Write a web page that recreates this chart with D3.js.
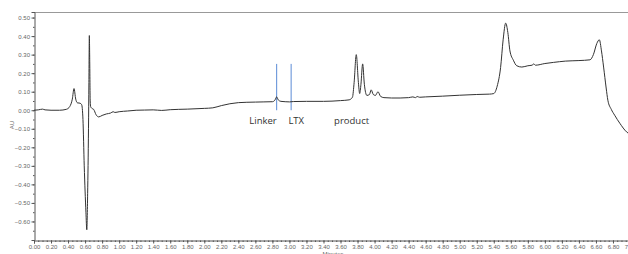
<!DOCTYPE html>
<html>
<head>
<meta charset="utf-8">
<script src="https://cdn.jsdelivr.net/npm/d3@7"></script>
<style>
  body { margin: 0; background: #fff; }
  svg { display: block; }
</style>
</head>
<body>
<svg id="chart" width="628" height="254"></svg>
<script>
// retention time (min) and absorbance (AU)
var times = [0.00, 0.05, 0.10, 0.13, 0.20, 0.30, 0.38, 0.42, 0.45, 0.47, 0.49, 0.51, 0.54, 0.56,
  0.575, 0.59, 0.61, 0.62, 0.63, 0.64, 0.645, 0.65, 0.655, 0.66, 0.665, 0.68, 0.70, 0.73, 0.76,
  0.80, 0.85, 0.90, 0.93, 0.95, 1.00, 1.10, 1.20, 1.30, 1.40, 1.50, 1.60, 1.80, 2.00, 2.10, 2.20,
  2.30, 2.40, 2.50, 2.60, 2.70, 2.80, 2.83, 2.85, 2.87, 2.90, 2.95, 3.00, 3.05, 3.20, 3.40, 3.60,
  3.70, 3.74, 3.76, 3.785, 3.81, 3.825, 3.84, 3.86, 3.88, 3.91, 3.94, 3.96, 3.985, 4.01, 4.04,
  4.07, 4.11, 4.20, 4.30, 4.40, 4.45, 4.48, 4.50, 4.53, 4.60, 4.80, 5.00, 5.20, 5.35, 5.40, 5.44,
  5.48, 5.51, 5.54, 5.565, 5.59, 5.63, 5.67, 5.73, 5.80, 5.85, 5.87, 5.89, 6.00, 6.10, 6.24, 6.40,
  6.53, 6.57, 6.61, 6.64, 6.665, 6.69, 6.72, 6.74, 6.78, 6.82, 6.88, 6.96, 7.00];
var absorbance = [0.000, 0.002, 0.006, 0.002, 0.000, 0.000, 0.005, 0.020, 0.060, 0.117, 0.060, 0.040, 0.038, 0.030,
  -0.050, -0.300, -0.550, -0.645, -0.450, -0.100, 0.150, 0.403, 0.250, 0.050, 0.020, 0.010, 0.005, -0.025, -0.036,
  -0.028, -0.020, -0.015, -0.008, -0.012, -0.008, -0.004, 0.000, 0.001, 0.002, -0.001, 0.003, 0.006, 0.010, 0.013, 0.025,
  0.035, 0.041, 0.043, 0.044, 0.045, 0.046, 0.055, 0.072, 0.055, 0.048, 0.046, 0.045, 0.047, 0.048, 0.048, 0.052,
  0.056, 0.070, 0.150, 0.300, 0.150, 0.090, 0.140, 0.250, 0.140, 0.080, 0.085, 0.110, 0.085, 0.080, 0.100,
  0.075, 0.068, 0.066, 0.066, 0.068, 0.072, 0.068, 0.074, 0.070, 0.072, 0.076, 0.081, 0.085, 0.087, 0.090, 0.130,
  0.230, 0.380, 0.470, 0.420, 0.320, 0.270, 0.240, 0.233, 0.240, 0.243, 0.250, 0.243, 0.252, 0.258, 0.265, 0.268,
  0.272, 0.300, 0.360, 0.380, 0.320, 0.233, 0.120, 0.054, 0.005, -0.027, -0.070, -0.117, -0.130];

// marker lines and annotations
var markerTimes = [2.85, 3.02];
var markerTop = 0.25, markerBottom = 0.00;
var notes = [
  {text: "Linker", t: 2.69, v: -0.074},
  {text: "LTX", t: 3.08, v: -0.074},
  {text: "product", t: 3.73, v: -0.074}
];

var xTicks = d3.range(0, 7.001, 0.2);
var yTicks = d3.range(-0.6, 0.501, 0.1);

var svg = d3.select("#chart");
var x = d3.scaleLinear().domain([0, 7]).range([34, 630]);
var y = d3.scaleLinear().domain([-0.70, 0.53]).range([240, 12]);

var axisColor = "#555", labelColor = "#666";

/* frame top line */
svg.append("line")
  .attr("x1", 34).attr("x2", 628)
  .attr("y1", 12.5).attr("y2", 12.5)
  .attr("stroke", "#999").attr("stroke-width", 1);

/* X axis */
svg.append("g")
  .attr("transform", "translate(0,240.5)")
  .call(d3.axisBottom(x).tickValues(xTicks).tickFormat(d3.format(".2f")).tickSize(3).tickPadding(1.5));
svg.append("g")
  .attr("transform", "translate(0,240.5)")
  .call(d3.axisBottom(x).tickValues(d3.range(0, 7.001, 0.05)).tickFormat("").tickSize(1.5))
  .call((g) => g.select(".domain").remove());

/* Y axis */
svg.append("g")
  .attr("transform", "translate(34.5,0)")
  .call(d3.axisLeft(y).tickValues(yTicks).tickFormat(d3.format(".2f")).tickSize(3).tickPadding(1.5));
svg.append("g")
  .attr("transform", "translate(34.5,0)")
  .call(d3.axisLeft(y).tickValues(d3.range(-0.7, 0.53, 0.05)).tickFormat("").tickSize(1.5))
  .call((g) => g.select(".domain").remove());

svg.selectAll(".domain").attr("stroke", axisColor);
svg.selectAll(".tick line").attr("stroke", axisColor);
svg.selectAll(".tick text")
  .attr("fill", labelColor)
  .style("font-family", "Liberation Sans, Arial, sans-serif")
  .style("font-size", "6px");

/* axis titles */
svg.append("text")
  .attr("transform", "translate(14,125) rotate(-90)")
  .attr("text-anchor", "middle")
  .attr("fill", labelColor)
  .style("font-family", "Liberation Sans, Arial, sans-serif")
  .style("font-size", "6px")
  .text("AU");

svg.append("text")
  .attr("x", 333).attr("y", 256)
  .attr("text-anchor", "middle")
  .attr("fill", labelColor)
  .style("font-family", "Liberation Sans, Arial, sans-serif")
  .style("font-size", "6px")
  .text("Minutes");

/* marker lines */
svg.selectAll(".marker")
  .data(markerTimes)
  .enter().append("line")
  .attr("class", "marker")
  .attr("x1", (d) => x(d)).attr("x2", (d) => x(d))
  .attr("y1", y(markerTop)).attr("y2", y(markerBottom))
  .attr("stroke", "#5b8bd6").attr("stroke-width", 1);

/* trace */
var points = times.map((t, i) => [t, absorbance[i]]);
svg.append("path")
  .datum(points)
  .attr("fill", "none")
  .attr("stroke", "#333")
  .attr("stroke-width", 1)
  .attr("stroke-linejoin", "round")
  .attr("d", d3.line().x((d) => x(d[0])).y((d) => y(d[1])).curve(d3.curveMonotoneX));

/* annotations */
svg.selectAll(".note")
  .data(notes)
  .enter().append("text")
  .attr("class", "note")
  .attr("x", (d) => x(d.t)).attr("y", (d) => y(d.v))
  .attr("text-anchor", "middle")
  .attr("fill", "#333")
  .style("font-family", "Open Sans, sans-serif")
  .style("font-size", "9.5px")
  .text((d) => d.text);
</script>
</body>
</html>
